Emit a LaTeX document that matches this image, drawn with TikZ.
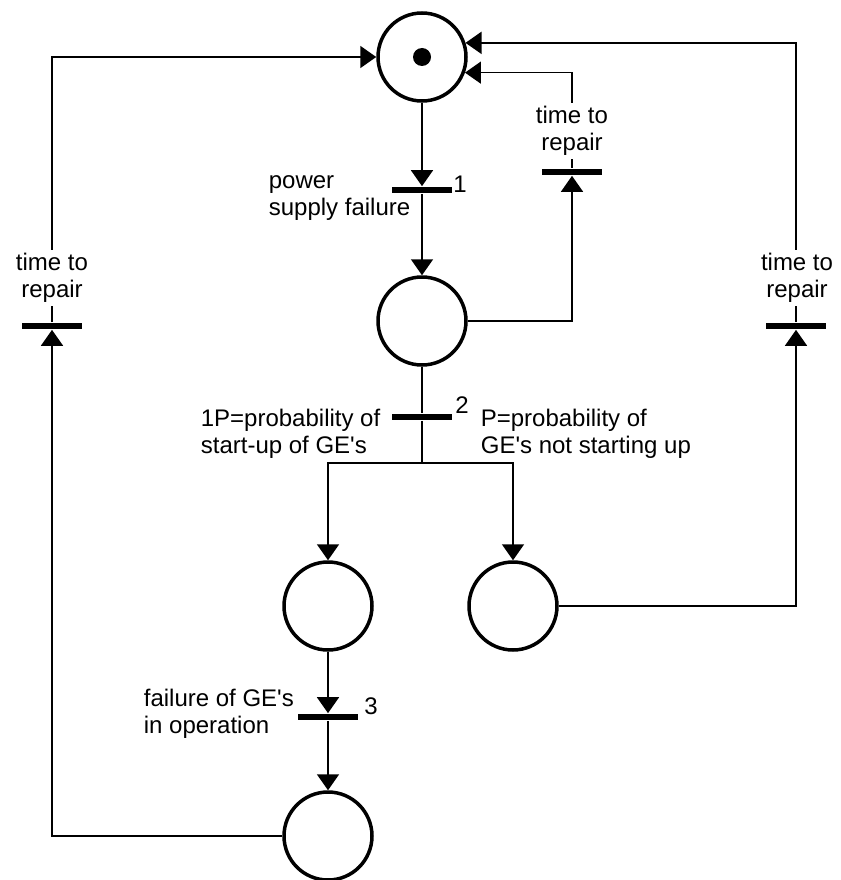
\documentclass[tikz,border=0pt]{standalone}
\usepackage{fontspec}
\setmainfont{Liberation Sans}
\usepackage{tikz}
\usetikzlibrary{arrows.meta}
\tikzset{>={Triangle[width=22pt,length=16pt]}}
\tikzset{
	place/.style={circle,draw,line width=3.5pt,minimum size=88pt,inner sep=0pt},
	bar/.style={fill=black,minimum width=60pt,minimum height=6pt,inner sep=0pt},
	lbl/.style={fill=white,align=center,inner sep=3pt},
	note/.style={align=left,anchor=west,inner sep=0pt},
}

\begin{document}
\begin{tikzpicture}[x=1pt,y=-1pt,line width=1.7pt,font=\fontsize{24}{27}\selectfont]
	\useasboundingbox (0,0) rectangle (840,880);
	\node[place] (p1) at (422,57) {};
	\fill (p1) circle (9pt);
	\node[place] (p2) at (422,321) {};
	\node[place] (p3) at (328,606) {};
	\node[place] (p4) at (513,606) {};
	\node[place] (p5) at (328,836) {};
	\node[bar] (t1) at (422,190) {};
	\node[bar] (t2) at (422,417) {};
	\node[bar] (t3) at (328,717) {};
	\node[bar] (rep top) at (572,172) {};
	\node[bar] (rep right) at (796,326) {};
	\node[bar] (rep left) at (52,326) {};
	\coordinate (split) at (422,463);
	\draw[->] (p1) -- (t1);
	\draw[->] (t1) -- (p2);
	\draw (p2) -- (t2) -- (split);
	\draw[->] (split) -| (p3);
	\draw[->] (split) -| (p4);
	\draw[->] (p3) -- (t3);
	\draw[->] (t3) -- (p5);
	\draw[->] (p2) -| (rep top);
	\draw[->] (rep top) |- (p1.-20);
	\draw[->] (p4) -| (rep right);
	\draw[->] (rep right) |- (p1.18);
	\draw[->] (p5) -| (rep left);
	\draw[->] (rep left) |- (p1);
	\node[lbl] at (572,131) {time to\\repair};
	\node[lbl] at (797,278) {time to\\repair};
	\node[lbl] at (52,278) {time to\\repair};
	\node[note] at (268,198) {power\\supply failure};
	\node[note] at (200,434) {1P=probability of\\start-up of GE\textquotesingle s};
	\node[note] at (480,434) {P=probability of\\GE\textquotesingle s not starting up};
	\node[note] at (143,714) {failure of GE\textquotesingle s\\in operation};
	\node at (460,184) {1};
	\node at (462,405) {2};
	\node at (371,706) {3};
\end{tikzpicture}
\end{document}
